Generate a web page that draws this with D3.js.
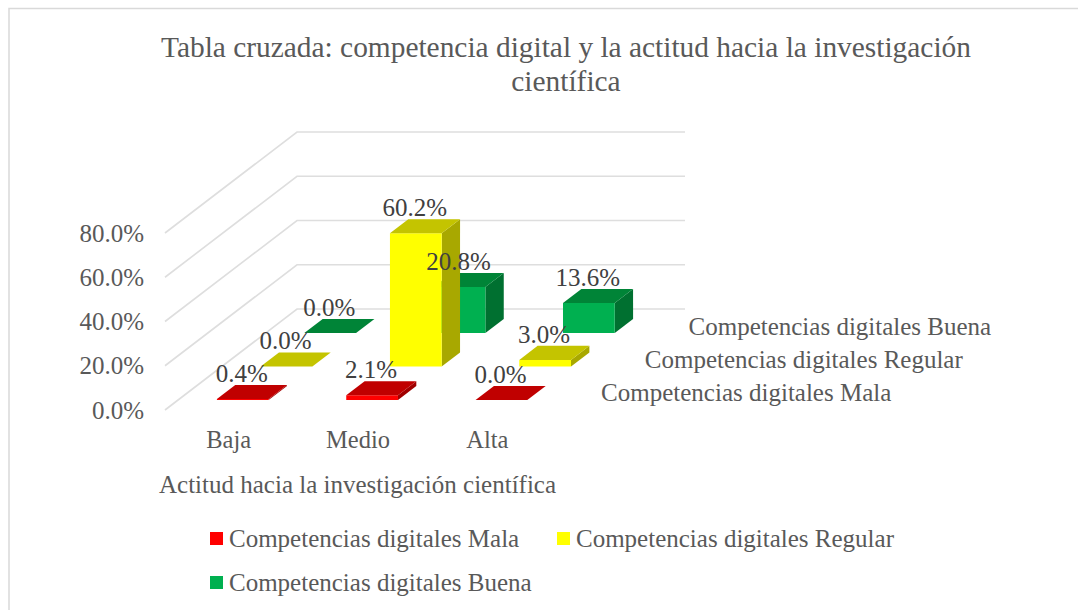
<!DOCTYPE html>
<html>
<head>
<meta charset="utf-8">
<script src="https://cdn.jsdelivr.net/npm/d3@7"></script>
<style>
  html, body { margin: 0; padding: 0; background: #fff; }
  svg { display: block; }
  text { font-family: "Liberation Serif", serif; }
</style>
</head>
<body>
<script>
const categories = ["Baja", "Medio", "Alta"];
const seriesNames = ["Competencias digitales Mala", "Competencias digitales Regular", "Competencias digitales Buena"];
const mala = [0.4, 2.1, 0.0];
const regular = [0.0, 60.2, 3.0];
const buena = [0.0, 20.8, 13.6];
const valueTicks = [0, 20, 40, 60, 80];
const titleLines = ["Tabla cruzada: competencia digital y la actitud hacia la investigación", "científica"];
const axisTitle = "Actitud hacia la investigación científica";

const seriesValues = [mala, regular, buena];
const front = ["#ff0000", "#ffff00", "#00b050"];
const topFace = ["#c00000", "#c4c400", "#008437"];
const sideFace = ["#a00000", "#a8a800", "#007030"];

const width = 1078, height = 610;
const svg = d3.select("body").append("svg").attr("width", width).attr("height", height);

// chart frame, only left and top are inside the crop
svg.append("path")
  .attr("d", "M9,610V8.5H1078")
  .attr("fill", "none").attr("stroke", "#d9d9d9").attr("stroke-width", 1.5);

svg.selectAll(".title").data(titleLines).enter().append("text")
  .attr("class", "title")
  .attr("x", 566).attr("y", (d, i) => 57 + i * 34)
  .attr("text-anchor", "middle")
  .attr("font-size", 29.4).attr("fill", "#595959")
  .text(d => d);

// fake 3d: floor corner and how far the depth axis shifts
const floorLeft = 165, floorBase = 410;
const depthX = 132, depthY = -101;

const x = d3.scaleBand().domain(categories).range([floorLeft, floorLeft + 388]).paddingInner(0.6).paddingOuter(0.3);
const depth = d3.scaleBand().domain(seriesNames).range([0, 1]).paddingInner(0.58).paddingOuter(0.3);
const y = d3.scaleLinear().domain([0, 80]).range([floorBase, 233]);

function project(px, py, t) {
  return [px + depthX * t, py + depthY * t];
}
function poly(points) {
  return "M" + points.map(p => p.join(",")).join("L") + "Z";
}

// gridlines
const gridG = svg.append("g");
valueTicks.forEach(v => {
  const a = project(floorLeft, y(v), 0), b = project(floorLeft, y(v), 1), c = project(floorLeft + 388, y(v), 1);
  gridG.append("polyline")
    .attr("points", [a, b, c].map(p => p.join(",")).join(" "))
    .attr("fill", "none").attr("stroke", "#dedede").attr("stroke-width", 1.6);
});

// value labels on the left
svg.selectAll(".vtick").data(valueTicks).enter().append("text")
  .attr("class", "vtick")
  .attr("x", 144).attr("y", d => y(d) + 8.5)
  .attr("text-anchor", "end").attr("font-size", 25).attr("fill", "#595959")
  .text(d => d3.format(".1f")(d) + "%");

// bars back to front
const barsG = svg.append("g");
const labels = [];
[2, 1, 0].forEach(s => {
  const name = seriesNames[s];
  const t0 = depth(name), t1 = t0 + depth.bandwidth();
  categories.forEach((c, i) => {
    const v = seriesValues[s][i];
    const x0 = x(c), x1 = x0 + x.bandwidth();
    const yb = y(0), yt = y(v);
    const g = barsG.append("g");
    g.append("path").attr("fill", sideFace[s])
      .attr("d", poly([project(x1, yb, t0), project(x1, yb, t1), project(x1, yt, t1), project(x1, yt, t0)]));
    g.append("path").attr("fill", front[s])
      .attr("d", poly([project(x0, yb, t0), project(x1, yb, t0), project(x1, yt, t0), project(x0, yt, t0)]));
    g.append("path").attr("fill", topFace[s])
      .attr("d", poly([project(x0, yt, t0), project(x1, yt, t0), project(x1, yt, t1), project(x0, yt, t1)]));
    // label sits over the front face centre, just above the back edge of the top
    labels.push({ v, px: project(x0 + x.bandwidth() / 2, yt, t0)[0] - 1, py: project(x0, yt, t1)[1] });
  });
});

svg.selectAll(".dlabel").data(labels).enter().append("text")
  .attr("class", "dlabel")
  .attr("x", d => d.px).attr("y", d => d.py - 3)
  .attr("text-anchor", "middle").attr("font-size", 25).attr("fill", "#404040")
  .text(d => d3.format(".1f")(d.v) + "%");

// category labels
svg.selectAll(".cat").data(categories).enter().append("text")
  .attr("class", "cat")
  .attr("x", d => x(d) + x.bandwidth() / 2 - 1).attr("y", 448)
  .attr("text-anchor", "middle").attr("font-size", 24.5).attr("fill", "#595959")
  .text(d => d);

// series names along the depth axis
svg.selectAll(".sname").data(seriesNames).enter().append("text")
  .attr("class", "sname")
  .attr("x", d => project(floorLeft + 388, floorBase, depth(d))[0] + 35)
  .attr("y", d => project(floorLeft + 388, floorBase, depth(d))[1] + 1.5)
  .attr("font-size", 25).attr("fill", "#595959")
  .text(d => d);

svg.append("text")
  .attr("x", 159).attr("y", 493)
  .attr("font-size", 25).attr("fill", "#595959")
  .text(axisTitle);

// legend
const legendPos = [[210, 547], [557, 547], [210, 591]];
seriesNames.forEach((name, i) => {
  const g = svg.append("g").attr("transform", "translate(" + legendPos[i] + ")");
  g.append("rect").attr("x", 0).attr("y", -15).attr("width", 13).attr("height", 13).attr("fill", front[i]);
  g.append("text").attr("x", 19).attr("y", 0).attr("font-size", 25).attr("fill", "#595959").text(name);
});
</script>
</body>
</html>
